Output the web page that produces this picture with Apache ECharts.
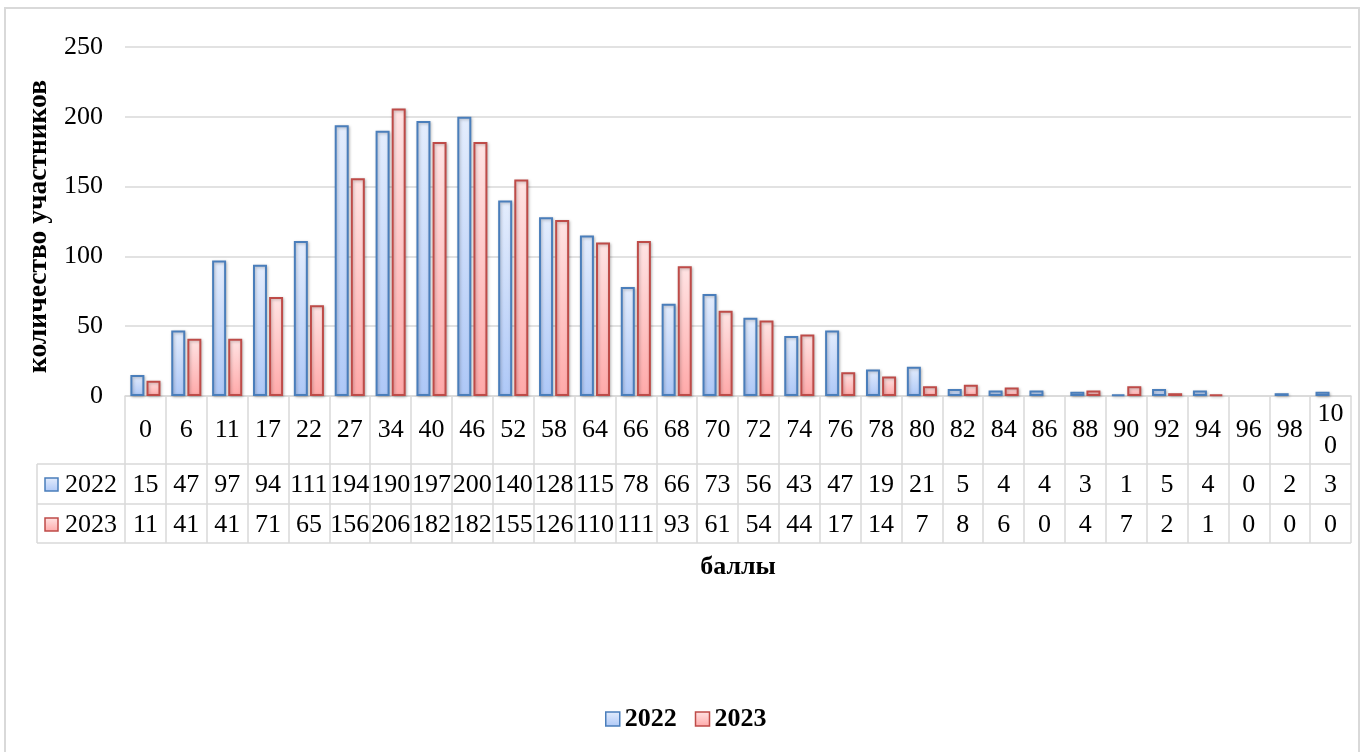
<!DOCTYPE html>
<html><head><meta charset="utf-8">
<script src="https://cdn.jsdelivr.net/npm/echarts@6/dist/echarts.min.js"></script>
<style>html,body{margin:0;padding:0;background:#fff}#c{width:1365px;height:752px}</style>
</head><body><div id="c"></div>
<script>
const categories = ['0','6','11','17','22','27','34','40','46','52','58','64','66','68','70','72','74','76','78','80','82','84','86','88','90','92','94','96','98','100'];
const values2022 = [15,47,97,94,111,194,190,197,200,140,128,115,78,66,73,56,43,47,19,21,5,4,4,3,1,5,4,0,2,3];
const values2023 = [11,41,41,71,65,156,206,182,182,155,126,110,111,93,61,54,44,17,14,7,8,6,0,4,7,2,1,0,0,0];
const seriesNames = ['2022','2023'];
const yAxisName = 'количество участников';
const xAxisName = 'баллы';

const FONT = '"Liberation Serif", "Times New Roman", serif';
const W = 1365, H = 752;
const gl = 125, gr = 1351, gt = 47, gb = 396;
const tableLeft = 37;
const rowLines = [464, 504, 543];
const rowCenters = [485, 525];
const lineColor = '#d9d9d9';

const chart = echarts.init(document.getElementById('c'), null, {renderer: 'canvas'});

function grad(top, bottom) {
  return new echarts.graphic.LinearGradient(0, 0, 0, 1, [{offset: 0, color: top}, {offset: 1, color: bottom}]);
}
const styles = [
  {top: '#e4edfd', bottom: '#aec8f7', border: '#4a7ebb'},
  {top: '#ffe4e4', bottom: '#ffa9a9', border: '#be4b48'}
];
const seriesValues = [values2022, values2023];

const txt = {fontFamily: FONT, fontSize: 26, color: '#000'};

const graphics = [
  {type: 'rect', shape: {x: 5, y: 8, width: 1354, height: 760}, style: {fill: 'none', stroke: lineColor, lineWidth: 2}, silent: true},
  {type: 'line', shape: {x1: tableLeft, y1: rowLines[0], x2: tableLeft, y2: rowLines[2]}, style: {stroke: lineColor, lineWidth: 1.5}, silent: true}
];
rowLines.forEach(y => graphics.push({type: 'line', shape: {x1: tableLeft, y1: y, x2: gr, y2: y}, style: {stroke: lineColor, lineWidth: 1.5}, silent: true}));
seriesNames.forEach((n, i) => {
  graphics.push({type: 'rect', shape: {x: 45, y: rowCenters[i] - 7, width: 13, height: 13},
    style: {fill: grad(styles[i].top, styles[i].bottom), stroke: styles[i].border, lineWidth: 1.5}, silent: true});
  graphics.push({type: 'text', x: 65, y: rowCenters[i], style: {text: n, verticalAlign: 'middle', align: 'left', font: '26px ' + FONT, fill: '#000'}, silent: true});
});

function valueAxis(arr, margin) {
  return {
    type: 'category', data: categories, position: 'bottom', gridIndex: 0,
    axisLine: {show: false}, axisTick: {show: false},
    axisLabel: Object.assign({interval: 0, margin: margin, verticalAlign: 'middle', formatter: (v, i) => String(arr[i])}, txt)
  };
}

chart.setOption({
  animation: false,
  grid: {left: gl, right: W - gr, top: gt, bottom: H - gb, containLabel: false},
  xAxis: [
    {
      type: 'category', data: categories, position: 'bottom',
      axisLine: {lineStyle: {color: lineColor, width: 1.5}},
      axisTick: {show: true, interval: 0, length: rowLines[2] - gb, lineStyle: {color: lineColor, width: 1.5}},
      axisLabel: Object.assign({interval: 0, margin: 34, verticalAlign: 'middle', width: 36, overflow: 'breakAll', lineHeight: 32}, txt),
      name: xAxisName, nameLocation: 'middle', nameGap: 158,
      nameTextStyle: {fontFamily: FONT, fontSize: 26, fontWeight: 'bold', color: '#000'}
    },
    valueAxis(values2022, rowCenters[0] - gb),
    valueAxis(values2023, rowCenters[1] - gb)
  ],
  yAxis: {
    type: 'value', min: 0, max: 250, interval: 50,
    axisLine: {show: false}, axisTick: {show: false},
    splitLine: {lineStyle: {color: lineColor, width: 1.5}},
    axisLabel: Object.assign({margin: 22}, txt),
    name: yAxisName, nameLocation: 'middle', nameGap: 64, nameRotate: 90,
    nameTextStyle: {fontFamily: FONT, fontSize: 27.5, fontWeight: 'bold', color: '#000', padding: [0, 10, 0, 0]}
  },
  legend: {
    data: seriesNames, top: 701, left: 600, icon: 'rect', itemWidth: 14, itemHeight: 14, itemGap: 18,
    itemStyle: {borderWidth: 1.5},
    textStyle: {fontFamily: FONT, fontSize: 26, fontWeight: 'bold', color: '#000'}
  },
  series: seriesNames.map((n, i) => ({
    name: n, type: 'bar', xAxisIndex: 0,
    data: seriesValues[i].map(v => v === 0 ? null : v),
    barWidth: 14, barGap: '15%',
    itemStyle: {
      color: grad(styles[i].top, styles[i].bottom), borderColor: styles[i].border, borderWidth: 2,
      shadowBlur: 3, shadowColor: 'rgba(0,0,0,0.25)', shadowOffsetX: 1, shadowOffsetY: 1
    }
  })),
  graphic: graphics
});
</script></body></html>
